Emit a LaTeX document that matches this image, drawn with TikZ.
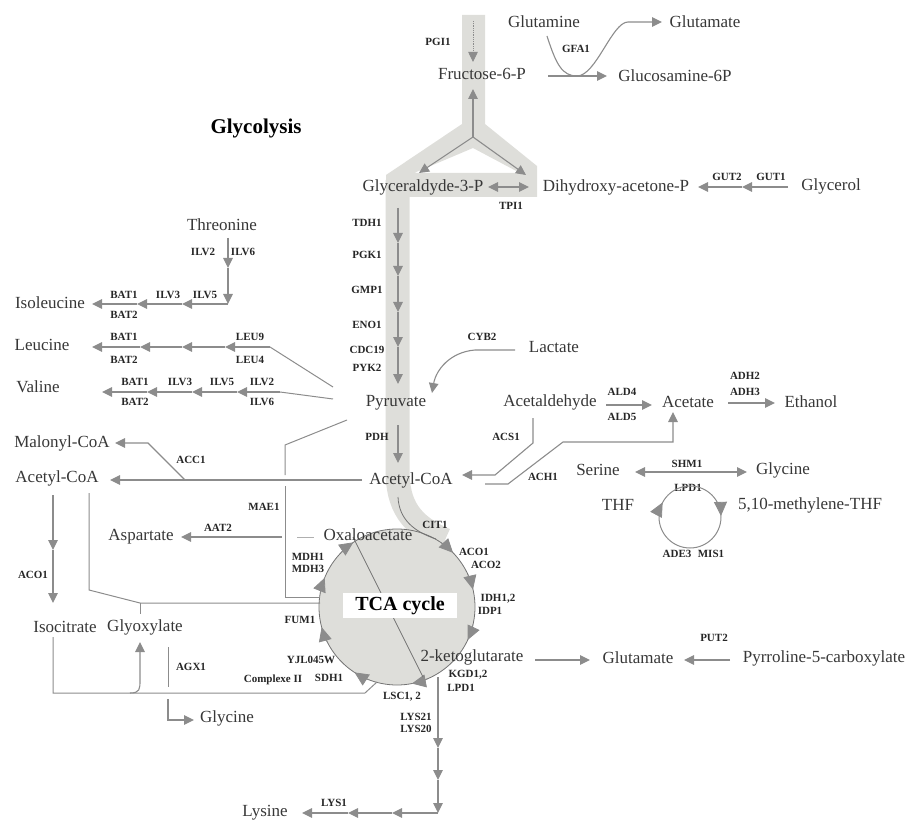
\documentclass[tikz,border=0pt]{standalone}
\usepackage{fontspec}
\setmainfont{Liberation Serif}
\usetikzlibrary{arrows.meta}

\definecolor{linegray}{RGB}{140,140,140}
\definecolor{rimgray}{RGB}{115,115,115}
\definecolor{bandgray}{RGB}{222,222,218}
\definecolor{metgray}{RGB}{55,55,55}

\tikzset{
  met/.style={font=\fontsize{17}{19}\selectfont, text=metgray, inner sep=1pt},
  enz/.style={font=\fontsize{11}{12}\selectfont\bfseries, text=black!85, inner sep=0.5pt},
  arr/.style={draw=linegray, line width=1.1pt, -{Triangle[length=10pt,width=9.5pt]}},
  dblarr/.style={draw=linegray, line width=1.1pt, {Triangle[length=10pt,width=9.5pt]}-{Triangle[length=10pt,width=9.5pt]}},
  lin/.style={draw=linegray, line width=1pt},
  rimline/.style={draw=rimgray, line width=0.8pt},
  cyclearr/.style={draw=linegray, line width=0.8pt, -{Triangle[length=14pt,width=13pt]}},
}

\begin{document}
\begin{tikzpicture}[x=1pt, y=-1pt]
  \useasboundingbox (0,0) rectangle (911,821);

  % glycolysis band
  \fill[bandgray, even odd rule] (462,15) -- (485,15) -- (485,124) -- (537,166) -- (537,197)
    -- (386,197) -- (386,175) -- (462,124) -- cycle (473,148) -- (414,173) -- (520,173) -- cycle;
  \draw[bandgray, line width=24pt] (397.5,180) -- (397.5,470) .. controls (397.5,505) and (410,525) .. (445,540);

  % TCA circle
  \node[circle, draw=rimgray, line width=0.8pt, fill=bandgray, minimum size=156pt, inner sep=0] (tca) at (397,607) {};
  \foreach \a in {-44,-13,25,79,123,165,202,236}
    \draw[cyclearr] (tca.center) ++(\a-12:78) arc[start angle=\a-12, end angle=\a, radius=78];
  \coordinate (diag-a) at (353,537);
  \coordinate (diag-b) at (423,677);
  \draw[rimline] (diag-a) -- (diag-b);
  \node[fill=white, font=\fontsize{20}{22}\selectfont\bfseries, minimum width=114pt, minimum height=25pt, inner sep=0] (tcalbl) at (400,605.5) {TCA cycle};

  % metabolites
  \node[met] (f6p) at (482,74) {Fructose-6-P};
  \node[met] (gln) at (544,22) {Glutamine};
  \node[met] (glutop) at (705,22) {Glutamate};
  \node[met] (glcn6p) at (675,76) {Glucosamine-6P};
  \node[met] (gap) at (423,187) {Glyceraldyde-3-P};
  \node[met] (dhap) at (616,187) {Dihydroxy-acetone-P};
  \node[met] (glyc) at (831,186) {Glycerol};
  \node[met] (thr) at (222,225) {Threonine};
  \node[met] (ile) at (50,303) {Isoleucine};
  \node[met] (leu) at (42,345) {Leucine};
  \node[met] (val) at (38,387) {Valine};
  \node[met] (pyr) at (396,403) {Pyruvate};
  \node[met] (lac) at (554,347) {Lactate};
  \node[met] (acald) at (550,402) {Acetaldehyde};
  \node[met] (ac) at (688,402) {Acetate};
  \node[met] (etoh) at (811,402) {Ethanol};
  \node[met] (malcoa) at (62,443) {Malonyl-CoA};
  \node[met] (accoaleft) at (57,478) {Acetyl-CoA};
  \node[met] (accoa) at (411,480) {Acetyl-CoA};
  \node[met] (ser) at (598,470) {Serine};
  \node[met] (glyright) at (783,470) {Glycine};
  \node[met] (thf) at (618,505) {THF};
  \node[met] (mthf) at (810,505) {5,10-methylene-THF};
  \node[met] (asp) at (141,537) {Aspartate};
  \node[met] (oaa) at (368,535) {Oxaloacetate};
  \node[met] (icit) at (65,627) {Isocitrate};
  \node[met] (glx) at (145,627) {Glyoxylate};
  \node[met] (akg) at (472,657) {2-ketoglutarate};
  \node[met] (glubot) at (638,658) {Glutamate};
  \node[met] (p5c) at (824,658) {Pyrroline-5-carboxylate};
  \node[met] (glybot) at (227,718) {Glycine};
  \node[met] (lys) at (265,813) {Lysine};
  \node[font=\fontsize{21}{23}\selectfont\bfseries] (glylbl) at (256,128) {Glycolysis};

  % enzymes
  \node[enz] (pgi1) at (438,42) {PGI1};
  \node[enz] (gfa1) at (576,49) {GFA1};
  \node[enz] (tpi1) at (511,206) {TPI1};
  \node[enz] (gut2) at (727,177) {GUT2};
  \node[enz] (gut1) at (771,177) {GUT1};
  \node[enz] (tdh1) at (367,223) {TDH1};
  \node[enz] (pgk1) at (367,255) {PGK1};
  \node[enz] (gmp1) at (367,290) {GMP1};
  \node[enz] (eno1) at (367,325) {ENO1};
  \node[enz] (cdc19) at (367,350) {CDC19};
  \node[enz] (pyk2) at (367,368) {PYK2};
  \node[enz] (pdh) at (377,437) {PDH};
  \node[enz] (cyb2) at (482,337) {CYB2};
  \node[enz] (ilv2t) at (203,252) {ILV2};
  \node[enz] (ilv6t) at (243,252) {ILV6};
  \node[enz] (ilv5i) at (205,295) {ILV5};
  \node[enz] (ilv3i) at (168,295) {ILV3};
  \node[enz] (bat1i) at (124,295) {BAT1};
  \node[enz] (bat2i) at (124,315) {BAT2};
  \node[enz] (bat1l) at (124,337) {BAT1};
  \node[enz] (bat2l) at (124,360) {BAT2};
  \node[enz] (leu9) at (250,337) {LEU9};
  \node[enz] (leu4) at (250,360) {LEU4};
  \node[enz] (bat1v) at (135,382) {BAT1};
  \node[enz] (bat2v) at (135,402) {BAT2};
  \node[enz] (ilv3v) at (180,382) {ILV3};
  \node[enz] (ilv5v) at (222,382) {ILV5};
  \node[enz] (ilv2v) at (262,382) {ILV2};
  \node[enz] (ilv6v) at (262,402) {ILV6};
  \node[enz] (ald4) at (622,392) {ALD4};
  \node[enz] (ald5) at (622,417) {ALD5};
  \node[enz] (adh2) at (745,376) {ADH2};
  \node[enz] (adh3) at (745,392) {ADH3};
  \node[enz] (acs1) at (506,437) {ACS1};
  \node[enz] (ach1) at (543,477) {ACH1};
  \node[enz] (acc1) at (191,460) {ACC1};
  \node[enz] (shm1) at (687,464) {SHM1};
  \node[enz] (lpd1t) at (688,488) {LPD1};
  \node[enz] (ade3) at (677,554) {ADE3};
  \node[enz] (mis1) at (711,554) {MIS1};
  \node[enz] (mae1) at (264,507) {MAE1};
  \node[enz] (aat2) at (218,528) {AAT2};
  \node[enz] (mdh1) at (308,557) {MDH1};
  \node[enz] (mdh3) at (308,569) {MDH3};
  \node[enz] (cit1) at (435,525) {CIT1};
  \node[enz] (aco1) at (474,552) {ACO1};
  \node[enz] (aco2) at (486,565) {ACO2};
  \node[enz] (idh) at (498,599) {IDH1,2};
  \node[enz] (idp1) at (490,611) {IDP1};
  \node[enz] (fum1) at (300,620) {FUM1};
  \node[enz] (yjl) at (311,660) {YJL045W};
  \node[enz] (sdh1) at (329,678) {SDH1};
  \node[enz] (cplx2) at (273,680) {Complexe II};
  \node[enz] (kgd) at (468,675) {KGD1,2};
  \node[enz] (lpd1b) at (461,688) {LPD1};
  \node[enz] (lsc) at (402,697) {LSC1, 2};
  \node[enz] (lys21) at (416,717) {LYS21};
  \node[enz] (lys20) at (416,729) {LYS20};
  \node[enz] (lys1) at (334,803) {LYS1};
  \node[enz] (acoleft) at (33,575) {ACO1};
  \node[enz] (agx1) at (191,667) {AGX1};
  \node[enz] (put2) at (714,638) {PUT2};

  % upper glycolysis
  \coordinate (pgi-a) at (473,21);
  \coordinate (pgi-b) at (473,62);
  \draw[arr, line width=0.8pt, densely dotted] (pgi-a) -- (pgi-b);
  \coordinate (yj) at (473,137);
  \coordinate (yj-up) at (473,89);
  \coordinate (yj-l) at (419,173);
  \coordinate (yj-r) at (526,175);
  \draw[arr] (yj) -- (yj-up);
  \draw[arr] (yj) -- (yj-l);
  \draw[arr] (yj) -- (yj-r);
  \coordinate (tpi-l) at (488,187);
  \coordinate (tpi-r) at (529,187);
  \draw[dblarr] (tpi-l) -- (tpi-r);
  % glycerol
  \coordinate (gut-a) at (788,187);
  \coordinate (gut-b) at (742,187);
  \coordinate (gut-c) at (698,187);
  \draw[arr] (gut-a) -- (gut-b);
  \draw[arr] (gut-b) -- (gut-c);
  % glucosamine
  \coordinate (gfa-a) at (547,36);
  \coordinate (gfa-b) at (628,22);
  \coordinate (gfa-c) at (662,22);
  \draw[arr] (gfa-a) .. controls (556,64) and (562,76) .. (577,76) .. controls (596,76) and (612,22) .. (gfa-b) -- (gfa-c);
  \coordinate (f6p-out) at (548,76);
  \coordinate (glcn-in) at (607,76);
  \draw[arr] (f6p-out) -- (glcn-in);

  % lower glycolysis
  \foreach \n/\y in {0/208,1/243,2/276,3/312,4/347,5/384}
    \coordinate (gl\n) at (398,\y);
  \foreach \a/\b in {0/1,1/2,2/3,3/4,4/5}
    \draw[arr] (gl\a) -- (gl\b);
  \coordinate (pdh-a) at (398,425);
  \coordinate (pdh-b) at (398,463);
  \draw[arr] (pdh-a) -- (pdh-b);
  % lactate
  \coordinate (cyb-a) at (515,350);
  \coordinate (cyb-b) at (432,393);
  \draw[arr] (cyb-a) -- (475,350) .. controls (450,352) and (436,370) .. (cyb-b);

  % isoleucine
  \coordinate (thr-a) at (228,238);
  \coordinate (thr-b) at (228,268);
  \coordinate (thr-c) at (228,304);
  \coordinate (ile-1) at (182,304);
  \coordinate (ile-2) at (137,304);
  \coordinate (ile-3) at (92,304);
  \draw[arr] (thr-a) -- (thr-b);
  \draw[arr] (thr-b) -- (thr-c);
  \draw[arr] (thr-c) -- (ile-1);
  \draw[arr] (ile-1) -- (ile-2);
  \draw[arr] (ile-2) -- (ile-3);
  % leucine
  \foreach \n/\x in {0/270,1/225,2/182,3/140,4/92}
    \coordinate (leu-\n) at (\x,347);
  \foreach \a/\b in {0/1,1/2,2/3,3/4}
    \draw[arr] (leu-\a) -- (leu-\b);
  \coordinate (leu-p) at (333,387);
  \draw[lin] (leu-0) -- (leu-p);
  % valine
  \foreach \n/\x in {0/280,1/237,2/192,3/147,4/102}
    \coordinate (val-\n) at (\x,392);
  \foreach \a/\b in {0/1,1/2,2/3,3/4}
    \draw[arr] (val-\a) -- (val-\b);
  \coordinate (val-p) at (333,399);
  \draw[lin] (val-0) -- (val-p);

  % acetyl-CoA and malonyl-CoA
  \coordinate (acl-a) at (362,480);
  \coordinate (acl-b) at (110,480);
  \draw[arr] (acl-a) -- (acl-b);
  \coordinate (acc-a) at (185,480);
  \coordinate (acc-b) at (148,443);
  \coordinate (acc-c) at (115,443);
  \draw[arr] (acc-a) -- (acc-b) -- (acc-c);
  % malic enzyme
  \coordinate (mae-a) at (347,420);
  \coordinate (mae-b) at (285,445);
  \coordinate (mae-c) at (285,475);
  \coordinate (mae-d) at (285,486);
  \coordinate (mae-e) at (285,597);
  \coordinate (mae-f) at (320,597);
  \draw[lin] (mae-a) -- (mae-b) -- (mae-c);
  \draw[lin] (mae-d) -- (mae-e) -- (mae-f);
  % aspartate
  \coordinate (aat-a) at (282,537);
  \coordinate (aat-b) at (181,537);
  \draw[arr] (aat-a) -- (aat-b);
  \coordinate (oaa-a) at (297,537);
  \coordinate (oaa-b) at (314,537);
  \draw[lin, draw=linegray!70] (oaa-a) -- (oaa-b);

  % glyoxylate shunt
  \coordinate (aco-a) at (53,495);
  \coordinate (aco-b) at (53,550);
  \coordinate (aco-c) at (53,603);
  \draw[arr] (aco-a) -- (aco-b);
  \draw[arr] (aco-b) -- (aco-c);
  \coordinate (glx-a) at (89,493);
  \coordinate (glx-b) at (89,590);
  \coordinate (glx-c) at (140,603);
  \coordinate (glx-d) at (320,603);
  \coordinate (glx-e) at (140,614);
  \draw[lin] (glx-a) -- (glx-b) -- (glx-c) -- (glx-d);
  \draw[lin] (glx-c) -- (glx-e);
  \coordinate (ict-a) at (53,637);
  \coordinate (ict-b) at (53,693);
  \coordinate (sdh-a) at (365,693);
  \coordinate (sdh-b) at (377,682);
  \draw[lin] (ict-a) -- (ict-b) -- (sdh-a) -- (sdh-b);
  \coordinate (icl-a) at (130,693);
  \coordinate (icl-m) at (140,680);
  \coordinate (icl-b) at (140,642);
  \draw[arr] (icl-a) .. controls (140,693) and (140,689) .. (icl-m) -- (icl-b);
  \coordinate (agx-a) at (168,647);
  \coordinate (agx-b) at (168,687);
  \draw[lin] (agx-a) -- (agx-b);
  \coordinate (agx-c) at (168,699);
  \coordinate (agx-d) at (168,720);
  \coordinate (agx-e) at (194,720);
  \draw[arr] (agx-c) -- (agx-d) -- (agx-e);

  % citrate synthase entry
  \coordinate (cit-a) at (398,497);
  \coordinate (cit-b) at (436,539);
  \draw[rimline] (cit-a) .. controls (399,520) and (415,532) .. (cit-b);

  % glutamate
  \coordinate (akg-a) at (535,660);
  \coordinate (akg-b) at (590,660);
  \draw[arr] (akg-a) -- (akg-b);
  \coordinate (put-a) at (730,660);
  \coordinate (put-b) at (684,660);
  \draw[arr] (put-a) -- (put-b);

  % lysine
  \foreach \n/\y in {0/677,1/748,2/780,3/813}
    \coordinate (lys-\n) at (438,\y);
  \foreach \n/\x in {4/392,5/348,6/302}
    \coordinate (lys-\n) at (\x,813);
  \foreach \a/\b in {0/1,1/2,2/3,3/4,4/5,5/6}
    \draw[arr] (lys-\a) -- (lys-\b);

  % acetate and ethanol
  \coordinate (ald-a) at (606,405);
  \coordinate (ald-b) at (652,405);
  \draw[arr] (ald-a) -- (ald-b);
  \coordinate (adh-a) at (728,403);
  \coordinate (adh-b) at (775,403);
  \draw[arr] (adh-a) -- (adh-b);
  \coordinate (acs-a) at (533,418);
  \coordinate (acs-b) at (533,443);
  \coordinate (acs-c) at (495,475);
  \coordinate (acs-d) at (462,475);
  \draw[arr] (acs-a) -- (acs-b) -- (acs-c) -- (acs-d);
  \coordinate (ach-a) at (485,484);
  \coordinate (ach-b) at (508,484);
  \coordinate (ach-c) at (563,442);
  \coordinate (ach-d) at (673,442);
  \coordinate (ach-e) at (673,412);
  \draw[arr] (ach-a) -- (ach-b) -- (ach-c) -- (ach-d) -- (ach-e);

  % serine / glycine and folate cycle
  \coordinate (shm-a) at (635,472);
  \coordinate (shm-b) at (747,472);
  \draw[dblarr] (shm-a) -- (shm-b);
  \node[circle, draw=linegray, line width=1pt, minimum size=62pt, inner sep=0] (thfcyc) at (690,517) {};
  \draw[cyclearr] (thfcyc.center) ++(185:31) arc[start angle=185, end angle=208, radius=31];
  \draw[cyclearr] (thfcyc.center) ++(335:31) arc[start angle=335, end angle=358, radius=31];
\end{tikzpicture}
\end{document}
